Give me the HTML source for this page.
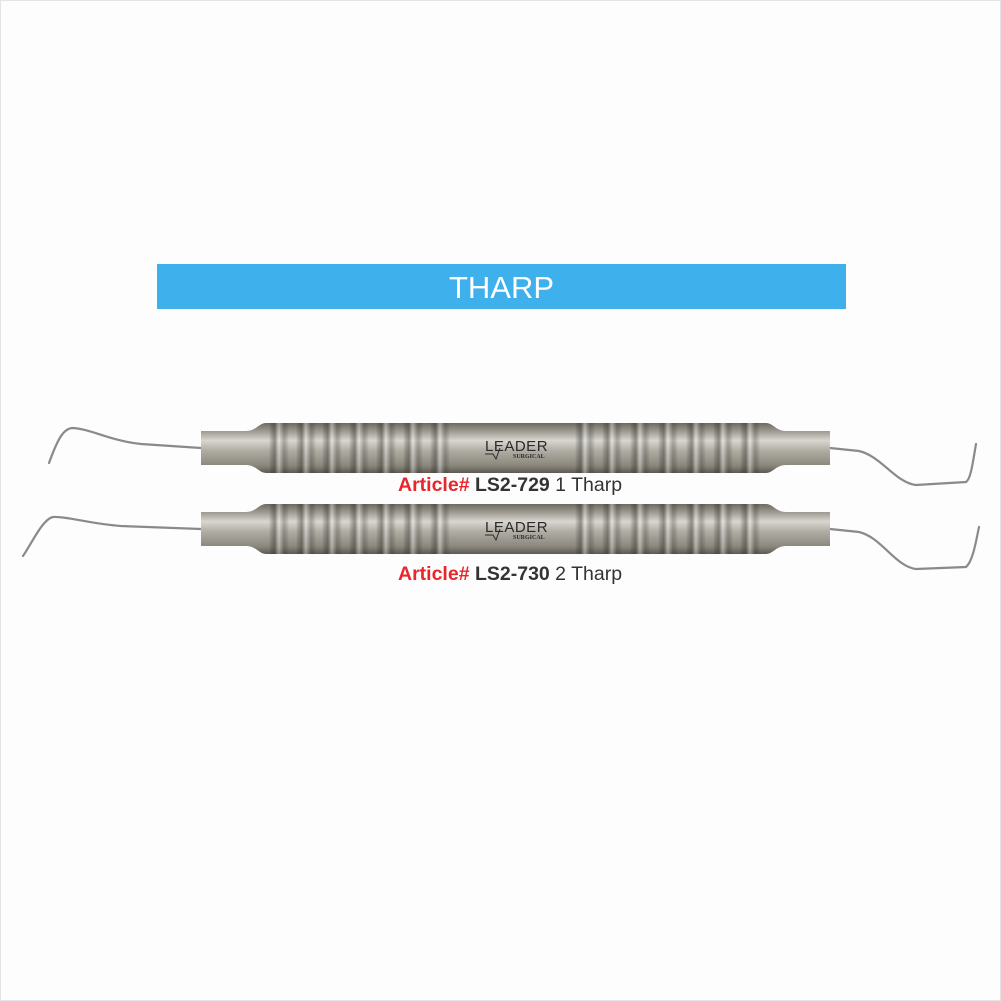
<!DOCTYPE html>
<html><head><meta charset="utf-8"><style>
html,body{margin:0;padding:0;background:#fff}
#w{position:relative;width:1001px;height:1001px;background:#fdfdfd;box-sizing:border-box;border:1px solid #e4e4e4;overflow:hidden}
.bn{position:absolute;left:156px;top:263px;width:689px;height:45px;background:#3eb0eb;color:#fff;font:31px "Liberation Sans",sans-serif;text-align:center;line-height:47px;letter-spacing:0px}
.lb{position:absolute;left:397px;font:19.5px "Liberation Sans",sans-serif;color:#333;white-space:nowrap}
.lb b.r{color:#e8262b}
</style></head><body><div id="w">
<div class="bn">THARP</div>
<svg width="1001" height="1001" style="position:absolute;left:0;top:0">
<defs>
<linearGradient id="g" x1="0" y1="0" x2="0" y2="1">
<stop offset="0" stop-color="#6e6a60"/><stop offset="0.2" stop-color="#a8a59c"/>
<stop offset="0.35" stop-color="#d8d6d0"/><stop offset="0.55" stop-color="#b0ada4"/>
<stop offset="0.85" stop-color="#8a877d"/><stop offset="1" stop-color="#5e5a52"/></linearGradient>
<linearGradient id="gr" x1="0" y1="0" x2="1" y2="0">
<stop offset="0" stop-color="#000" stop-opacity="0"/><stop offset="0.3" stop-color="#3a3730" stop-opacity="0.45"/>
<stop offset="0.5" stop-color="#fff" stop-opacity="0.35"/><stop offset="0.75" stop-color="#3a3730" stop-opacity="0.3"/><stop offset="1" stop-color="#000" stop-opacity="0"/></linearGradient>
<g id="h">
<path d="M200,-17 L245,-17 C255,-17 258,-25 265,-25 L765,-25 C772,-25 775,-17 785,-17 L829,-17 L829,17 L785,17 C775,17 772,25 765,25 L265,25 C258,25 255,17 245,17 L200,17 Z" fill="url(#g)"/>
<g fill="url(#gr)">
<rect x="268" y="-25" width="20" height="50"/><rect x="295" y="-25" width="20" height="50"/><rect x="321" y="-25" width="20" height="50"/><rect x="348" y="-25" width="20" height="50"/><rect x="375" y="-25" width="20" height="50"/><rect x="402" y="-25" width="20" height="50"/><rect x="429" y="-25" width="20" height="50"/>
<rect x="574" y="-25" width="20" height="50"/><rect x="601" y="-25" width="20" height="50"/><rect x="629" y="-25" width="20" height="50"/><rect x="657" y="-25" width="20" height="50"/><rect x="685" y="-25" width="20" height="50"/><rect x="712" y="-25" width="20" height="50"/><rect x="739" y="-25" width="20" height="50"/>
</g>
<text x="484" y="3" font-family="Liberation Sans,sans-serif" font-size="15" fill="#2a2a2a" letter-spacing="0.5">LEADER</text>
<path d="M484,6 L492,6 L495,11 L499,0" stroke="#2a2a2a" stroke-width="1" fill="none"/>
<text x="512" y="10" font-family="Liberation Serif,serif" font-size="6" font-weight="bold" fill="#2a2a2a">SURGICAL</text>
</g>
</defs>
<g fill="none" stroke="#8a8a8a" stroke-width="2.2" stroke-linecap="round">
<path d="M200,447 L140,443 C110,440 90,428 72,427 C62,427 56,440 48,462"/>
<path d="M829,447 L858,450 C880,455 895,482 915,484 L965,481 C970,478 972,460 975,443"/>
<path d="M200,528 L120,525 C90,523 65,515 52,516 C42,518 32,540 22,555"/>
<path d="M829,528 L858,531 C880,536 895,566 915,568 L965,566 C972,560 975,540 978,526"/>
</g>
<use href="#h" transform="translate(0,447)"/>
<use href="#h" transform="translate(0,528)"/>
</svg>
<div class="lb" style="top:473px"><b class="r">Article#</b> <b>LS2-729</b> 1 Tharp</div>
<div class="lb" style="top:562px"><b class="r">Article#</b> <b>LS2-730</b> 2 Tharp</div>
</div></body></html>
